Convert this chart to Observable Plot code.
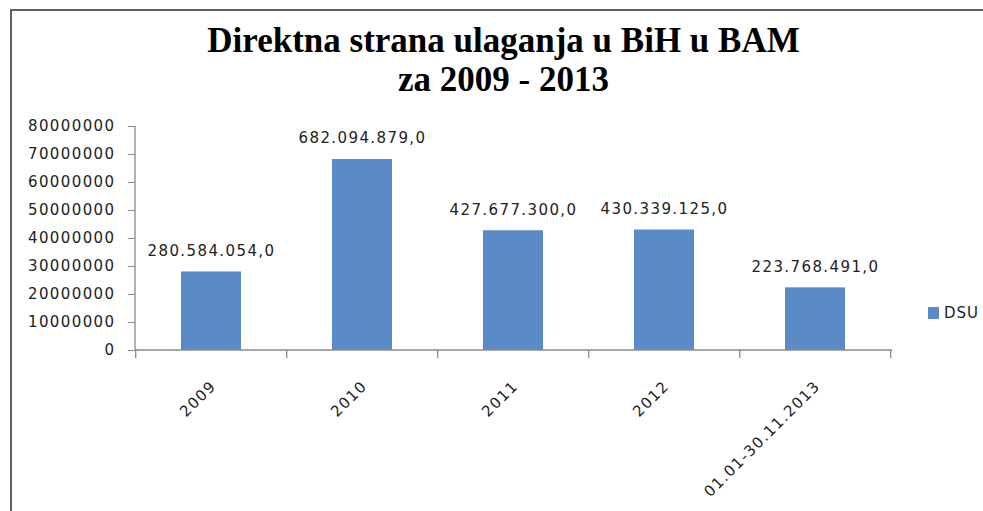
<!DOCTYPE html>
<html>
<head>
<meta charset="utf-8">
<script src="https://cdn.jsdelivr.net/npm/d3@7"></script>
<script src="https://cdn.jsdelivr.net/npm/@observablehq/plot@0.6"></script>
<style>
  body { margin: 0; background: #fff; }
  #wrap { position: relative; width: 983px; height: 511px; overflow: hidden; background: #fff; }
  #chart { position: absolute; left: 0; top: 0; }
  #frame { position: absolute; left: 10px; top: 9px; width: 990px; height: 520px;
           border-top: 2px solid #606060; border-left: 2px solid #606060; pointer-events: none; }
  #title { position: absolute; left: 12px; width: 983px; top: 21px; text-align: center;
           font-family: "Liberation Serif", "Times New Roman", serif; font-weight: bold;
           font-size: 35px; line-height: 39px; color: #000; }
  #legend { position: absolute; left: 928px; top: 304px; font-family: "DejaVu Sans", sans-serif;
            font-size: 15px; letter-spacing: 1px; color: #222; display: flex; align-items: center; }
  #legend .sw { width: 11px; height: 12px; background: #5b8bc6; margin-right: 5px; }
</style>
</head>
<body>
<div id="wrap">
  <div id="chart"></div>
  <div id="title">Direktna strana ulaganja u BiH u BAM<br>za 2009 - 2013</div>
  <div id="legend"></div>
  <div id="frame"></div>
</div>
<script>
// ---- data ----
const categories = ["2009", "2010", "2011", "2012", "01.01-30.11.2013"];
// bar heights as drawn against the y axis
const barValues = [28058405.4, 68209487.9, 42767730.0, 43033912.5, 22376849.1];
// data labels as printed above the bars
const barLabels = ["280.584.054,0", "682.094.879,0", "427.677.300,0", "430.339.125,0", "223.768.491,0"];
const yTicks = [0, 10000000, 20000000, 30000000, 40000000, 50000000, 60000000, 70000000, 80000000];
const seriesName = "DSU";

const BAR = "#5b8bc6";
const AXIS = "#8a8a8a";
const TEXT = "#222";

const data = categories.map((c, i) => ({cat: c, value: barValues[i], label: barLabels[i]}));

// axis lines and category boundary ticks, positioned by the plot's own scales
const axisLines = (index, scales, values, dims) => {
  const x = scales.x, y = scales.y;
  const g = d3.create("svg:g").attr("stroke", AXIS).attr("stroke-width", 1.3).attr("fill", "none");
  const x0 = dims.marginLeft, x1 = dims.width - dims.marginRight;
  const yb = y(0), yt = y(yTicks[yTicks.length - 1]);
  g.append("line").attr("x1", x0).attr("x2", x1).attr("y1", yb).attr("y2", yb);
  g.append("line").attr("x1", x0).attr("x2", x0).attr("y1", yt).attr("y2", yb);
  const step = x.step ? x.step() : (x1 - x0) / categories.length;
  const pin = x.paddingInner ? x.paddingInner() : 0.6;
  const bounds = categories.map(c => x(c) - step * pin / 2);
  bounds.push(bounds[bounds.length - 1] + step);
  for (const b of bounds) {
    g.append("line").attr("x1", b).attr("x2", b).attr("y1", yb).attr("y2", yb + 8);
  }
  return g.node();
};

const chart = Plot.plot({
  width: 983,
  height: 511,
  marginTop: 126,
  marginBottom: 161,
  marginLeft: 135,
  marginRight: 91,
  style: {background: "transparent", fontFamily: "DejaVu Sans, sans-serif", fontSize: "15px", letterSpacing: "1.4px", color: TEXT},
  x: {domain: categories, paddingInner: 0.6, paddingOuter: 0.3, axis: null},
  y: {domain: [0, yTicks[yTicks.length - 1]], axis: null},
  marks: [
    Plot.barY(data, {x: "cat", y: "value", fill: BAR}),
    axisLines,
    Plot.axisY({ticks: yTicks, tickSize: 7, tickPadding: 13, tickFormat: d => String(d), label: null, stroke: AXIS, fill: TEXT, fontSize: 15}),
    Plot.text(data, {x: "cat", y: "value", text: "label", dy: -21, fill: TEXT, fontSize: 15}),
    Plot.text(data, {x: "cat", y: () => 0, text: "cat", rotate: -45, textAnchor: "end", dx: 2, dy: 33, fill: TEXT, fontSize: 15})
  ]
});
document.getElementById("chart").appendChild(chart);

const legend = document.getElementById("legend");
legend.innerHTML = `<div class="sw"></div><span>${seriesName}</span>`;
</script>
</body>
</html>
